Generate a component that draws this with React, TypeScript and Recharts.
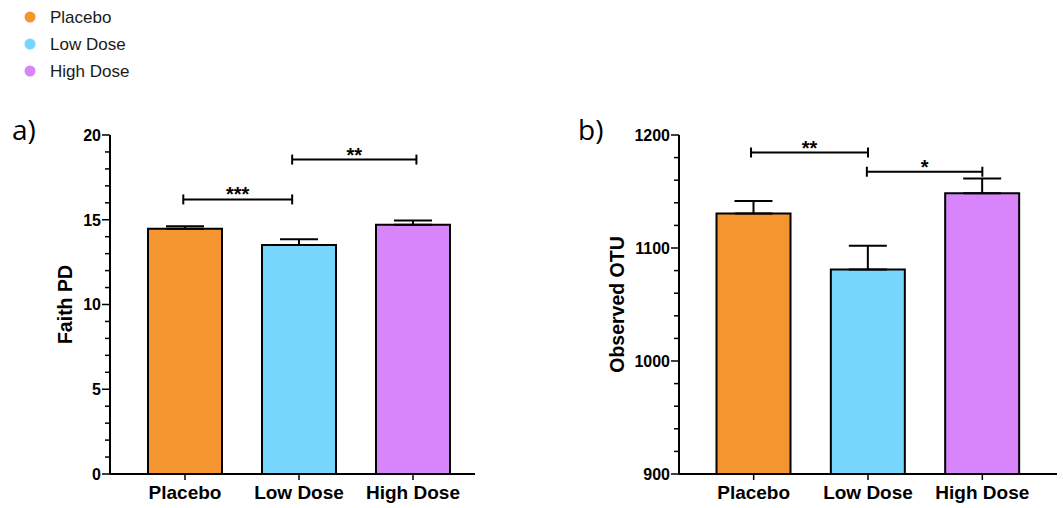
import { Bar, BarChart, Cell, ErrorBar, ReferenceLine, XAxis, YAxis } from "recharts";

const GROUPS = ["Placebo", "Low Dose", "High Dose"];
const COLORS = ["#F4952F", "#76D6FB", "#D884FA"];

// a) Faith PD
const FAITH_MEAN = [14.47, 13.51, 14.7];
const FAITH_SEM = [0.14, 0.34, 0.25];
const FAITH_TICKS = [0, 1, 2, 3, 4, 5, 6, 7, 8, 9, 10, 11, 12, 13, 14, 15, 16, 17, 18, 19, 20];

// b) Observed OTU
const OTU_MEAN = [1130.5, 1081, 1148.5];
const OTU_SEM = [11, 21, 13];
const OTU_TICKS = [900, 920, 940, 960, 980, 1000, 1020, 1040, 1060, 1080, 1100, 1120, 1140, 1160, 1180, 1200];

// significance brackets, x in band units (0 = left edge of the first group)
const FAITH_SIG = [
  { from: 0.485, to: 1.44, y: 16.2, stars: "***" },
  { from: 1.44, to: 2.53, y: 18.55, stars: "**" },
];
const OTU_SIG = [
  { from: 0.477, to: 1.5, y: 1184.5, stars: "**" },
  { from: 1.49, to: 2.5, y: 1167.5, stars: "*" },
];

const FONT = "'Liberation Sans', Arial, Helvetica, sans-serif";

type Sig = { from: number; to: number; y: number; stars: string };

function YTick({ x, y, payload, step }: any) {
  const major = payload.value % step === 0;
  return (
    <g>
      <line x1={x} x2={x - (major ? 8 : 5)} y1={y} y2={y} stroke="#000" strokeWidth={1.5} />
      {major && (
        <text x={x - 9} y={y} dy="0.36em" textAnchor="end" fontSize={16} fontWeight="bold" fill="#000">
          {payload.value}
        </text>
      )}
    </g>
  );
}

// the segment comes in at the two band centres; shift the ends by the fractional offsets
function Bracket(props: any) {
  const { x1, y1, x2, s, i, j } = props;
  const band = (x2 - x1) / (j - i);
  const a = x1 + (s.from - (i + 0.5)) * band;
  const b = x2 + (s.to - (j + 0.5)) * band;
  return (
    <g>
      <g stroke="#000" strokeWidth={2}>
        <line x1={a} y1={y1} x2={b} y2={y1} />
        <line x1={a} y1={y1 - 5} x2={a} y2={y1 + 5} />
        <line x1={b} y1={y1 - 5} x2={b} y2={y1 + 5} />
      </g>
      <text x={(a + b) / 2} y={y1 + 2} textAnchor="middle" fontSize={20} fontWeight="bold" fill="#000">
        {s.stars}
      </text>
    </g>
  );
}

function Panel(props: {
  title: string;
  means: number[];
  sems: number[];
  ticks: number[];
  step: number;
  sig: Sig[];
  width: number;
  yWidth: number;
  titleX: number;
  pad: { left: number; right: number };
  right: number;
}) {
  const { title, means, sems, ticks, step, sig, width, yWidth, titleX, pad, right } = props;
  const data = GROUPS.map((g, i) => ({ group: g, mean: means[i], err: [0, sems[i]] }));
  const domain = [ticks[0], ticks[ticks.length - 1]];

  return (
    <BarChart
      width={width}
      height={408}
      data={data}
      margin={{ top: 35, right, bottom: 0, left: 0 }}
      barCategoryGap={0}
    >
      <XAxis
        dataKey="group"
        height={34}
        padding={pad}
        axisLine={{ stroke: "#000", strokeWidth: 2 }}
        tickLine={{ stroke: "#000", strokeWidth: 1.5 }}
        tickSize={6}
        tickMargin={6}
        interval={0}
        tick={{ fontSize: 19, fontWeight: "bold", fill: "#000" }}
      />
      <YAxis
        width={yWidth}
        domain={domain}
        ticks={ticks}
        interval={0}
        allowDataOverflow
        axisLine={{ stroke: "#000", strokeWidth: 2 }}
        tickLine={false}
        tickSize={0}
        tickMargin={0}
        tick={(p: any) => <YTick {...p} step={step} />}
        label={{
          content: ({ viewBox }: any) => {
            const cy = viewBox.y + viewBox.height / 2;
            return (
              <text
                x={titleX}
                y={cy}
                transform={`rotate(-90, ${titleX}, ${cy})`}
                textAnchor="middle"
                dominantBaseline="central"
                fontSize={19.5}
                fontWeight="bold"
                fill="#000"
              >
                {title}
              </text>
            );
          },
        }}
      />
      <Bar dataKey="mean" barSize={74} stroke="#000" strokeWidth={2} isAnimationActive={false}>
        {data.map((_, i) => (
          <Cell key={i} fill={COLORS[i]} />
        ))}
        <ErrorBar dataKey="err" width={19} stroke="#000" strokeWidth={2} direction="y" />
      </Bar>
      {sig.map((s, k) => {
        const i = Math.round(s.from - 0.5);
        const j = Math.round(s.to - 0.5);
        return (
          <ReferenceLine
            key={k}
            segment={[
              { x: GROUPS[i], y: s.y },
              { x: GROUPS[j], y: s.y },
            ]}
            stroke="#000"
            strokeWidth={2}
            shape={(p: any) => <Bracket {...p} s={s} i={i} j={j} />}
          />
        );
      })}
    </BarChart>
  );
}

export default function App() {
  return (
    <div
      style={{
        position: "absolute",
        left: 0,
        top: 0,
        width: 1063,
        height: 508,
        background: "#fff",
        fontFamily: FONT,
      }}
    >
      <svg width={1063} height={508} style={{ position: "absolute", left: 0, top: 0 }}>
        {GROUPS.map((g, i) => (
          <g key={g}>
            <circle cx={30} cy={17 + i * 27} r={5.5} fill={COLORS[i]} />
            <text x={50} y={17 + i * 27} dy="0.35em" fontSize={17} fill="#1a1a1a" fontFamily={FONT}>
              {g}
            </text>
          </g>
        ))}
        <text x={12} y={140} fontSize={28} fill="#000" fontFamily="'Open Sans', sans-serif">
          a)
        </text>
        <text x={578} y={140} fontSize={28} fill="#000" fontFamily="'Open Sans', sans-serif">
          b)
        </text>
      </svg>
      <div style={{ position: "absolute", left: 0, top: 100 }}>
        <Panel
          title="Faith PD"
          means={FAITH_MEAN}
          sems={FAITH_SEM}
          ticks={FAITH_TICKS}
          step={5}
          sig={FAITH_SIG}
          width={480}
          yWidth={110}
          titleX={65}
          pad={{ left: 18, right: 5 }}
          right={5}
        />
      </div>
      <div style={{ position: "absolute", left: 530, top: 100 }}>
        <Panel
          title="Observed OTU"
          means={OTU_MEAN}
          sems={OTU_SEM}
          ticks={OTU_TICKS}
          step={100}
          sig={OTU_SIG}
          width={533}
          yWidth={149}
          titleX={87}
          pad={{ left: 17.5, right: 17.5 }}
          right={6}
        />
      </div>
    </div>
  );
}
